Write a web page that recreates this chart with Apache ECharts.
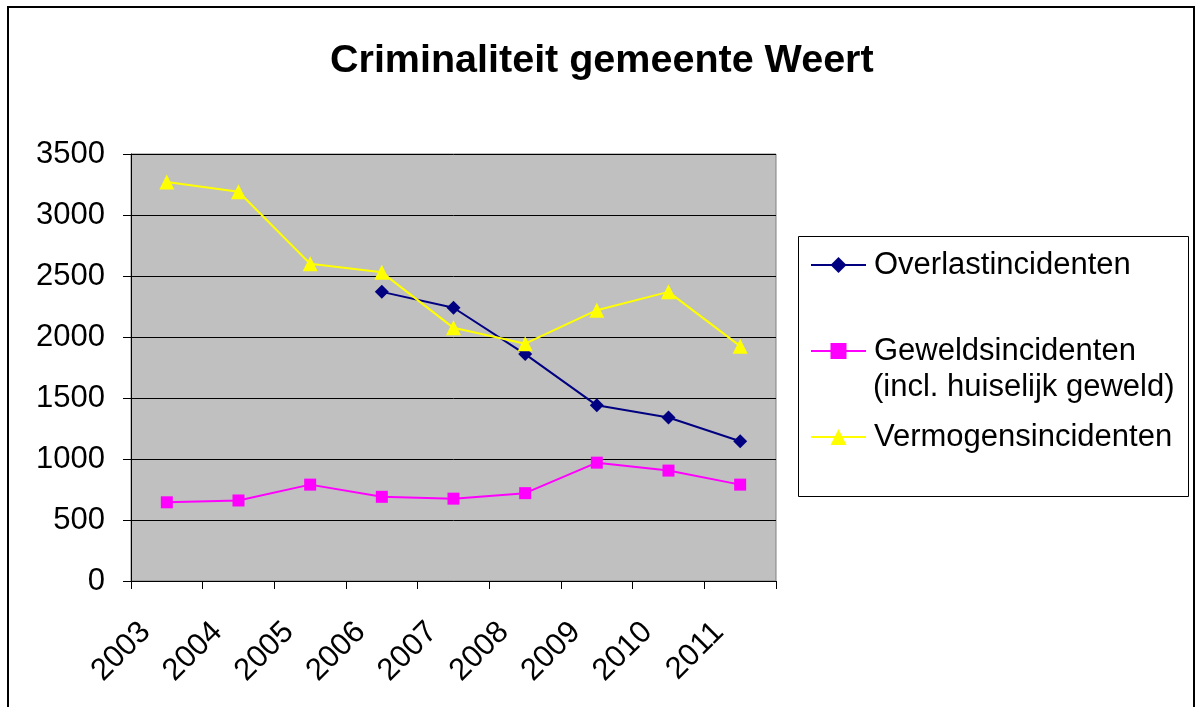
<!DOCTYPE html>
<html>
<head>
<meta charset="utf-8">
<script src="https://cdn.jsdelivr.net/npm/echarts@6/dist/echarts.min.js"></script>
<style>
  html, body { margin: 0; padding: 0; background: #fff; }
  #chart { width: 1196px; height: 707px; }
</style>
</head>
<body>
<div id="chart"></div>
<script>
// jaren en aantallen per soort incident
var years = ['2003', '2004', '2005', '2006', '2007', '2008', '2009', '2010', '2011'];
var overlast = ['-', '-', '-', 2370, 2240, 1860, 1440, 1340, 1145];
var geweld = [645, 660, 790, 690, 675, 720, 970, 905, 790];
var vermogen = [3270, 3190, 2600, 2530, 2075, 1945, 2220, 2370, 1925];
var seriesNames = ['Overlastincidenten', 'Geweldsincidenten', 'Vermogensincidenten'];
var yTicks = { min: 0, max: 3500, interval: 500 };

var font = 'Arial, "Liberation Sans", sans-serif';
var myChart = echarts.init(document.getElementById('chart'));

var option = {
  backgroundColor: '#fff',
  animation: false,
  title: {
    text: 'Criminaliteit gemeente Weert',
    left: 325,
    top: 36,
    textStyle: { fontFamily: font, fontSize: 39.5, fontWeight: 'bold', color: '#000' }
  },
  legend: {
    orient: 'vertical',
    left: 810,
    top: 247,
    padding: 0,
    itemWidth: 55,
    itemHeight: 20,
    itemGap: 50,
    data: seriesNames,
    textStyle: { fontFamily: font, fontSize: 31, lineHeight: 36, color: '#000', padding: [0, 0, 0, 3] }
  },
  grid: {
    left: 131,
    top: 154,
    right: 420,
    bottom: 126,
    show: true,
    backgroundColor: '#C0C0C0',
    borderColor: '#808080',
    borderWidth: 1
  },
  xAxis: {
    type: 'category',
    data: years,
    boundaryGap: true,
    axisLine: { lineStyle: { color: '#000', width: 1 } },
    axisTick: { show: true, length: 8, lineStyle: { color: '#000' } },
    axisLabel: {
      rotate: 45,
      margin: 25,
      padding: [0, 30, 0, 0],
      fontFamily: font,
      fontSize: 31,
      color: '#000',
      interval: 0
    }
  },
  yAxis: {
    type: 'value',
    min: yTicks.min,
    max: yTicks.max,
    interval: yTicks.interval,
    axisLine: { show: true, lineStyle: { color: '#000', width: 1 } },
    axisTick: { show: true, length: 8, lineStyle: { color: '#000' } },
    axisLabel: {
      margin: 26,
      fontFamily: font,
      fontSize: 31,
      color: '#000',
      formatter: function (v) { return String(v); }
    },
    splitLine: { lineStyle: { color: '#000', width: 1 } }
  },
  graphic: [
    {
      type: 'rect',
      shape: { x: 8, y: 7, width: 1186, height: 800 },
      style: { fill: null, stroke: '#000', lineWidth: 2 },
      z: -10
    },
    {
      type: 'rect',
      shape: { x: 798.5, y: 236.5, width: 390, height: 260 },
      style: { fill: '#fff', stroke: '#000', lineWidth: 1 },
      z: -1
    },
    {
      type: 'text',
      left: 873,
      top: 372,
      style: { text: '(incl. huiselijk geweld)', font: '31px ' + font, fill: '#000' }
    }
  ],
  series: [
    {
      name: seriesNames[0],
      type: 'line',
      data: overlast,
      symbol: 'diamond',
      symbolSize: 14,
      itemStyle: { color: '#000080' },
      lineStyle: { color: '#000080', width: 2 }
    },
    {
      name: seriesNames[1],
      type: 'line',
      data: geweld,
      symbol: 'rect',
      symbolSize: 12,
      itemStyle: { color: '#FF00FF' },
      lineStyle: { color: '#FF00FF', width: 2 }
    },
    {
      name: seriesNames[2],
      type: 'line',
      data: vermogen,
      symbol: 'triangle',
      symbolSize: 15,
      itemStyle: { color: '#FFFF00' },
      lineStyle: { color: '#FFFF00', width: 2 }
    }
  ]
};
myChart.setOption(option);
</script>
</body>
</html>
